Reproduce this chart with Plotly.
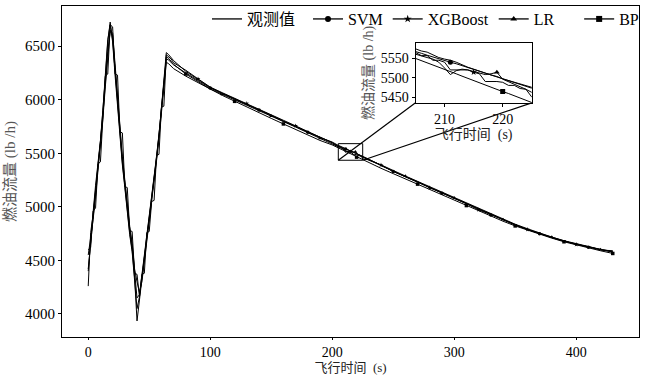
import plotly.graph_objects as go

# ---------------- data ----------------
t = (list(range(0, 72, 2)) + list(range(80, 201, 10)) +
     list(range(204, 227)) + list(range(230, 431, 10)))

observed = [4260, 4760, 4930, 5180, 5390, 5600, 5880, 6200, 6540, 6725, 6560, 6250, 5950, 5660, 5410, 5200, 4950, 4760, 4600, 4340, 3935, 4150, 4330, 4520, 4700, 4880, 5060, 5250, 5450, 5660, 5900, 6180, 6440, 6420, 6395, 6365,
            6265, 6190, 6115, 6060, 6010, 5958, 5905, 5855, 5800, 5752, 5698, 5648, 5605,
            5580, 5574, 5569, 5566, 5558, 5552, 5548, 5545, 5540, 5533, 5527, 5522, 5518, 5512, 5507, 5503, 5497, 5492, 5487, 5483, 5477, 5472, 5466,
            5445, 5388, 5333, 5282, 5232, 5182, 5130, 5078, 5026, 4976, 4926, 4877, 4832, 4790, 4750, 4713, 4680, 4651, 4625, 4600, 4577]

svm = [4420, 4650, 4900, 5120, 5350, 5580, 5850, 6150, 6450, 6640, 6600, 6300, 6000, 5700, 5440, 5230, 5000, 4800, 4640, 4400, 4150, 4180, 4360, 4540, 4720, 4900, 5080, 5270, 5470, 5680, 5910, 6170, 6380, 6370, 6350, 6325,
       6250, 6180, 6110, 6058, 6008, 5955, 5903, 5853, 5800, 5750, 5697, 5646, 5600,
       5572, 5568, 5563, 5558, 5553, 5549, 5545, 5540, 5536, 5531, 5526, 5522, 5517, 5512, 5507, 5502, 5497, 5492, 5488, 5483, 5478, 5473, 5468,
       5442, 5385, 5330, 5280, 5230, 5180, 5128, 5077, 5025, 4975, 4925, 4876, 4830, 4788, 4748, 4712, 4679, 4650, 4623, 4598, 4590]

xgboost = [4600, 4620, 4960, 4990, 5400, 5420, 5830, 6220, 6240, 6700, 6680, 6240, 6230, 5700, 5690, 5190, 5180, 4780, 4770, 4380, 4370, 4160, 4370, 4380, 4760, 4770, 5050, 5060, 5480, 5490, 5930, 5940, 6420, 6400, 6380, 6345,
           6275, 6195, 6118, 6065, 6012, 5965, 5910, 5860, 5808, 5756, 5702, 5650, 5598,
           5568, 5565, 5557, 5557, 5545, 5545, 5540, 5520, 5520, 5520, 5520, 5514, 5510, 5490, 5490, 5490, 5488, 5480, 5480, 5472, 5470, 5450, 5445,
           5440, 5390, 5330, 5285, 5235, 5178, 5132, 5080, 5030, 4972, 4928, 4880, 4835, 4788, 4752, 4715, 4682, 4648, 4628, 4602, 4585]

lr = [4550, 4700, 4880, 5100, 5320, 5560, 5820, 6120, 6420, 6650, 6620, 6330, 6040, 5740, 5470, 5250, 5020, 4820, 4660, 4420, 4300, 4200, 4300, 4480, 4680, 4860, 5040, 5230, 5430, 5640, 5870, 6120, 6350, 6335, 6315, 6290,
      6220, 6160, 6100, 6050, 6000, 5950, 5898, 5848, 5795, 5745, 5692, 5640, 5590,
      5565, 5560, 5555, 5552, 5548, 5540, 5525, 5508, 5518, 5522, 5520, 5516, 5512, 5508, 5510, 5514, 5496, 5490, 5484, 5478, 5470, 5462, 5455,
      5435, 5392, 5338, 5288, 5238, 5188, 5136, 5084, 5032, 4982, 4932, 4883, 4838, 4796, 4756, 4718, 4684, 4655, 4628, 4603, 4580]

bp = [4400, 4720, 4950, 5200, 5400, 5620, 5900, 6220, 6560, 6700, 6540, 6230, 5930, 5640, 5390, 5180, 4940, 4740, 4580, 4330, 4050, 4160, 4340, 4530, 4710, 4890, 5070, 5260, 5460, 5670, 5910, 6170, 6400, 6385, 6360, 6330,
      6240, 6170, 6100, 6040, 5985, 5930, 5878, 5826, 5774, 5722, 5670, 5620, 5578,
      5556, 5550, 5544, 5539, 5533, 5527, 5521, 5516, 5510, 5504, 5498, 5493, 5487, 5481, 5476, 5470, 5464, 5459, 5453, 5447, 5441, 5436, 5430,
      5415, 5360, 5310, 5260, 5212, 5162, 5112, 5062, 5012, 4962, 4914, 4866, 4822, 4782, 4744, 4708, 4674, 4644, 4616, 4590, 4565]

series_names = ["观测值", "SVM", "XGBoost", "LR", "BP"]
series_vals = [observed, svm, xgboost, lr, bp]
series_symbols = [None, "circle", "star", "triangle-up", "square"]
marker_times = [
    [],
    [100, 140, 180, 211, 250, 290, 330, 370, 410],
    [90, 130, 170, 215, 240, 280, 320, 360, 400],
    [110, 150, 190, 219, 260, 300, 340, 380, 420],
    [80, 120, 160, 220, 270, 310, 350, 390, 430],
]

x_ticks = [0, 100, 200, 300, 400]
y_ticks = [4000, 4500, 5000, 5500, 6000, 6500]
zoom_x = [205, 225]
zoom_y = [5435, 5590]
zoom_x_ticks = [210, 220]
zoom_y_ticks = [5450, 5500, 5550]

# ---------------- layout params ----------------
W, H = 646, 375
ML, MR, MT, MB = 62, 3, 2, 38
xr = [-21.5, 451.5]
yr = [3785, 6875]
inset_dx = [0.6127, 0.8141]
inset_dy = [0.7075, 0.8887]
legend_pad = {"观测值": 2, "LR": 5}   # extra spacing after legend labels
NBSP = "\u00a0"

LAT = "Liberation Serif, 'Noto Sans CJK SC', serif"

fig = go.Figure()

for name, vals, sym, mt in zip(series_names, series_vals, series_symbols, marker_times):
    for ax, msize in ((("x", "y"), 3.5), (("x2", "y2"), 5)):
        fig.add_trace(go.Scatter(x=t, y=vals, mode="lines", xaxis=ax[0], yaxis=ax[1],
                                 line=dict(color="black", width=1), showlegend=False,
                                 hoverinfo="skip"))
        if sym:
            my = [vals[t.index(tt)] for tt in mt]
            fig.add_trace(go.Scatter(x=mt, y=my, mode="markers", xaxis=ax[0], yaxis=ax[1],
                                     marker=dict(symbol=sym, color="black", size=msize,
                                                 line=dict(width=0)),
                                     showlegend=False, hoverinfo="skip"))
    fig.add_trace(go.Scatter(x=[None], y=[None], name=name + NBSP * legend_pad.get(name, 0),
                             mode="lines+markers" if sym else "lines",
                             line=dict(color="black", width=1.3),
                             marker=dict(symbol=sym or "circle", color="black", size=6)))

axis_common = dict(showline=True, mirror=True, linecolor="black", linewidth=1,
                   ticks="outside", tickcolor="black", showgrid=False,
                   zeroline=False, automargin=False)

fig.update_layout(
    width=W, height=H,
    margin=dict(l=ML, r=MR, t=MT, b=MB),
    paper_bgcolor="white", plot_bgcolor="white",
    font=dict(family=LAT, size=15, color="black"),
    xaxis=dict(range=xr, tickvals=x_ticks, domain=[0, 1], ticklen=2,
               title=dict(text="飞行时间  (s)", standoff=4,
                          font=dict(size=13, color="#222")),
               tickfont=dict(size=14), **axis_common),
    yaxis=dict(range=yr, tickvals=y_ticks, domain=[0, 1], ticklen=3,
               title=dict(text="燃油流量 (lb /h)", standoff=5,
                          font=dict(size=15, color="#555")),
               tickfont=dict(size=15), **axis_common),
    xaxis2=dict(range=zoom_x, tickvals=zoom_x_ticks, domain=inset_dx, anchor="y2",
                ticklen=3,
                title=dict(text="飞行时间  (s)", standoff=1,
                           font=dict(size=14, color="#222")),
                tickfont=dict(size=14), **axis_common),
    yaxis2=dict(range=zoom_y, tickvals=zoom_y_ticks, domain=inset_dy, anchor="x2",
                ticklen=3,
                title=dict(text="燃油流量 (lb /h)", standoff=3,
                           font=dict(size=14, color="#555")),
                tickfont=dict(size=14), **axis_common),
    legend=dict(orientation="h", x=(208 - ML) / (W - ML - MR), xanchor="left",
                y=1.012, yanchor="top",
                bgcolor="rgba(0,0,0,0)", font=dict(size=16), itemwidth=30,
                tracegroupgap=0),
    showlegend=True,
)

# zoom rectangle and connectors (main-axis data coordinates)
ix0 = xr[0] + inset_dx[0] * (xr[1] - xr[0])
ix1 = xr[0] + inset_dx[1] * (xr[1] - xr[0])
iy0 = yr[0] + inset_dy[0] * (yr[1] - yr[0])
fig.add_shape(type="rect", xref="x", yref="y", x0=zoom_x[0], x1=zoom_x[1],
              y0=zoom_y[0], y1=zoom_y[1], line=dict(color="black", width=1))
fig.add_shape(type="line", xref="x", yref="y", x0=zoom_x[0], y0=zoom_y[0],
              x1=ix0, y1=iy0, line=dict(color="black", width=1.2))
fig.add_shape(type="line", xref="x", yref="y", x0=zoom_x[1], y0=zoom_y[0],
              x1=ix1, y1=iy0, line=dict(color="black", width=1.2))

fig.write_html("out.html", config={"displayModeBar": False},
               post_script="document.body.style.margin='0';document.body.style.padding='0';")
